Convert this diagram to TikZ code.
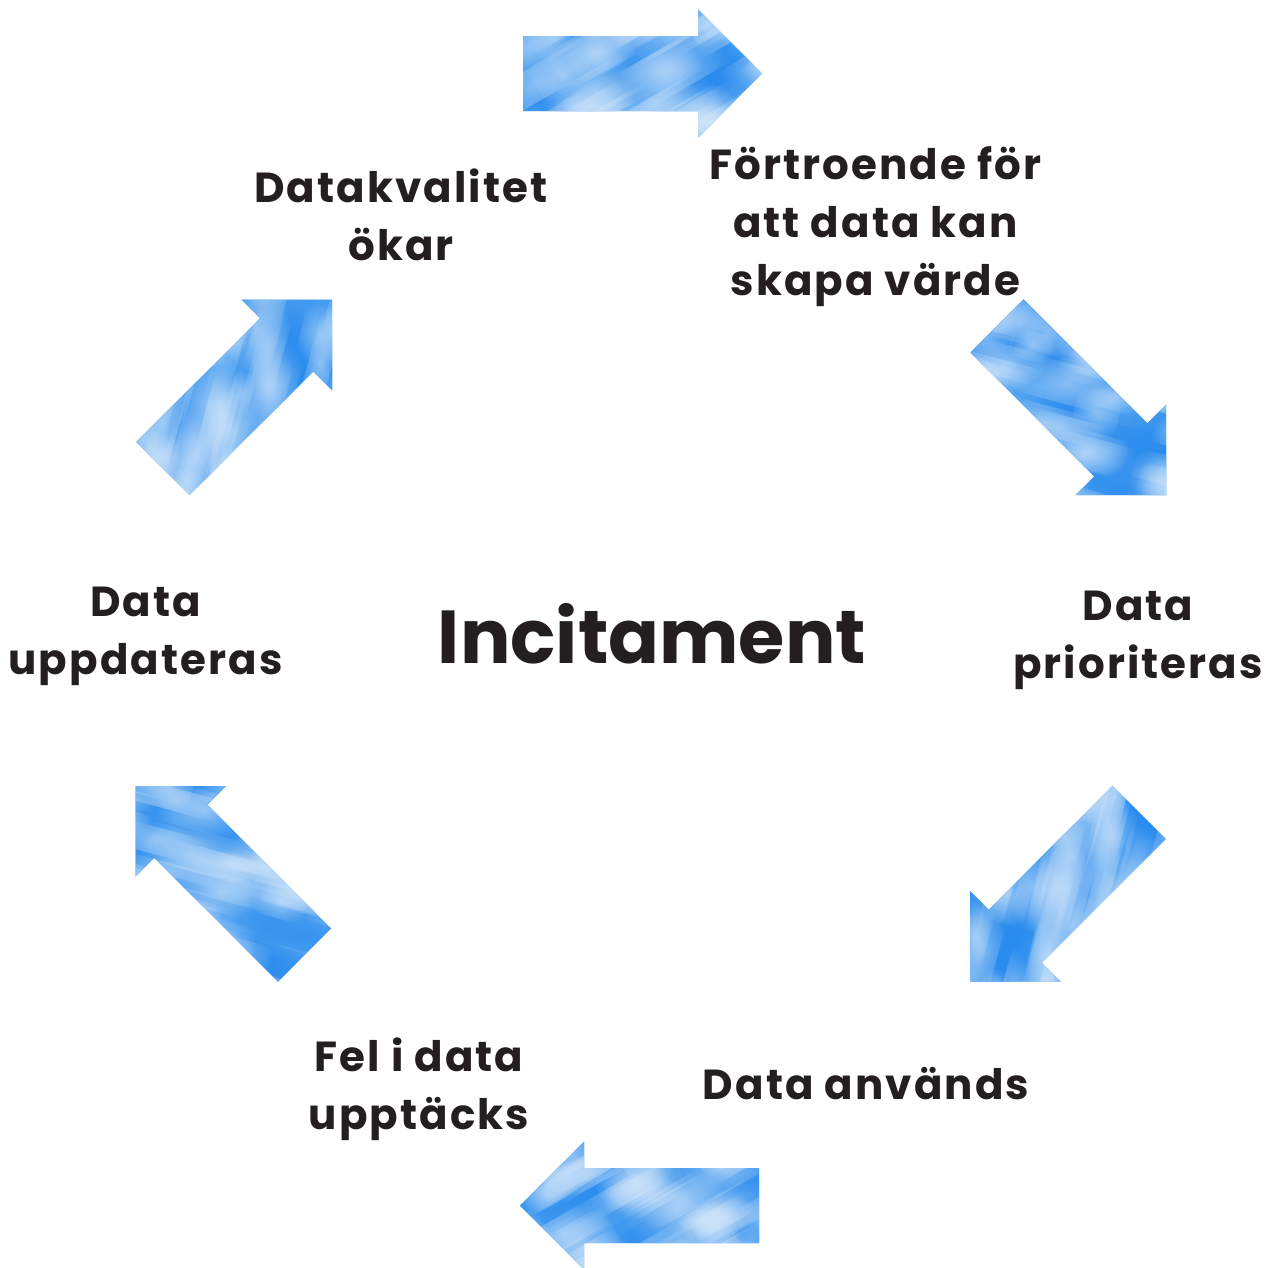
\documentclass[tikz,border=0pt]{standalone}
\usepackage{fontspec}
\usetikzlibrary{fadings}
\setmainfont{Poppins}
\newfontfamily\lblfont{Poppins}[LetterSpace=5]
\definecolor{ink}{HTML}{231F20}
\definecolor{skyA}{HTML}{4FA2F1}
\definecolor{skyB}{HTML}{2A8CEE}
\definecolor{skyL}{HTML}{DDECFB}

\tikzfading[name=darkblob, inner color=transparent!35, outer color=transparent!100]
\tikzfading[name=lightblob, inner color=transparent!50, outer color=transparent!100]

\tikzset{
  lbl/.style={font=\lblfont\bfseries\fontsize{42}{58}\selectfont, text=ink, align=center, inner sep=0pt},
  bigword/.style={font=\bfseries\fontsize{75}{90}\selectfont, text=ink, inner sep=0pt},
}

% A block arrow with a cloudy sky texture; #1 seed, #2/#3 tail centre, #4 direction
\newcommand\skyarrow[4]{%
  \begin{scope}[shift={(#2,#3)}, rotate=#4]
    \begin{scope}
      \clip (0,-37.5) -- (175,-37.5) -- (175,-64) -- (239,0) -- (175,64) -- (175,37.5) -- (0,37.5) -- cycle;
      \fill[skyA] (-5,-70) rectangle (245,70);
      \pgfmathsetseed{#1}
      \foreach \i in {1,...,30}{
        \pgfmathsetmacro\px{rnd*270-15}
        \pgfmathsetmacro\py{rnd*160-80}
        \pgfmathsetmacro\rx{30+rnd*50}
        \pgfmathsetmacro\ry{14+rnd*20}
        \fill[skyB, path fading=darkblob, rotate around={30:(\px,\py)}]
          (\px-\rx,\py-\ry) rectangle (\px+\rx,\py+\ry);
      }
      \foreach \i in {1,...,45}{
        \pgfmathsetmacro\px{rnd*270-15}
        \pgfmathsetmacro\py{rnd*160-80}
        \pgfmathsetmacro\rx{20+rnd*40}
        \pgfmathsetmacro\ry{10+rnd*16}
        \fill[skyL, path fading=lightblob, rotate around={30:(\px,\py)}]
          (\px-\rx,\py-\ry) rectangle (\px+\rx,\py+\ry);
      }
    \end{scope}
  \end{scope}
}

\begin{document}
\begin{tikzpicture}[x=1pt, y=-1pt]
  \useasboundingbox (0,0) rectangle (1274,1267);
  \fill[white] (0,0) rectangle (1274,1267);

  % the six arrows of the cycle
  \skyarrow{11}{523}{73.5}{0}
  \skyarrow{23}{997}{326}{-45}
  \skyarrow{37}{1139}{812.5}{-135}
  \skyarrow{41}{759}{1205.5}{180}
  \skyarrow{53}{304.5}{955}{135}
  \skyarrow{67}{163}{468.5}{45}

  % labels (base anchor = baseline of the last line)
  \node[bigword, anchor=base] (center) at (652,663) {Incitament};
  \node[lbl, anchor=base] (quality) at (401,260) {Datakvalitet\\ökar};
  \node[lbl, anchor=base] (trust) at (875.5,295) {Förtroende för\\att data kan\\skapa värde};
  \node[lbl, anchor=base] (prio) at (1138,678) {Data\\prioriteras};
  \node[lbl, anchor=base] (used) at (866,1099) {Data används};
  \node[lbl, anchor=base] (errors) at (419,1129) {Fel i data\\upptäcks};
  \node[lbl, anchor=base] (updated) at (145.5,674) {Data\\uppdateras};
\end{tikzpicture}
\end{document}
